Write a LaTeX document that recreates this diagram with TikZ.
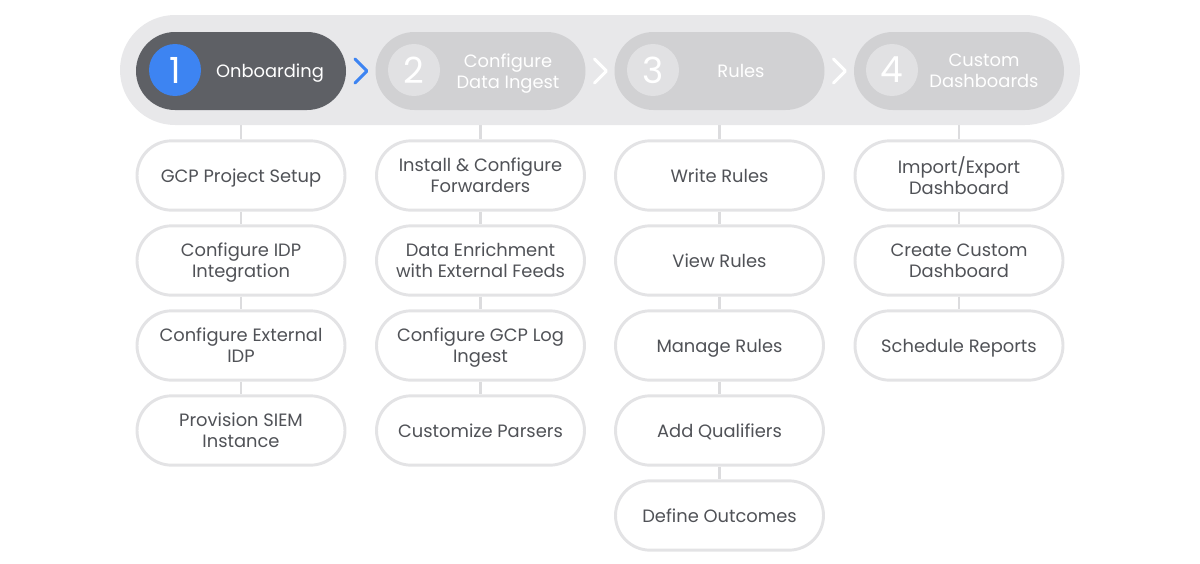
\documentclass[tikz,border=0pt]{standalone}
\usepackage{fontspec}
\setmainfont{Poppins}
\usetikzlibrary{backgrounds}
\definecolor{bgpill}{HTML}{E8E8EA}
\definecolor{darkstep}{HTML}{5E6065}
\definecolor{lightstep}{HTML}{D1D1D3}
\definecolor{lightcirc}{HTML}{E1E1E3}
\definecolor{blueone}{HTML}{3D84F2}
\definecolor{subborder}{HTML}{E3E3E5}
\definecolor{subtext}{HTML}{505257}
\definecolor{linecol}{HTML}{DCDCDE}
\pgfdeclarelayer{bottom}
\pgfsetlayers{bottom,background,main}
\begin{document}
\begin{tikzpicture}[x=0.75pt,y=-0.75pt,
  steppill/.style={minimum width=157.5pt, minimum height=58.5pt, rounded corners=29.25pt, inner sep=0pt},
  stepcirc/.style={circle, minimum size=39pt, inner sep=0pt, text=white, font=\fontsize{27}{30}\selectfont},
  steptext/.style={text=white, align=center, text depth=0pt, font=\fontsize{13.4}{15.8}\selectfont},
  subpill/.style={draw=subborder, line width=2.2pt, fill=white, minimum width=156pt, minimum height=52pt, rounded corners=26pt, inner sep=0pt, align=center, text depth=0pt, text=subtext, font=\fontsize{13.4}{15.8}\selectfont},
  link/.style={draw=linecol, line width=1.6pt},
  chev/.style={line width=2.2pt, line cap=round, line join=round}
]
\useasboundingbox (0,0) rectangle (1200,564);
\begin{pgfonlayer}{background}
\fill[bgpill, rounded corners=41.25pt] (120,15) rectangle (1080,125);
\end{pgfonlayer}
% steps
\node[steppill, fill=darkstep] (s1) at (241,71) {};
\node[steppill, fill=lightstep] (s2) at (480.5,71) {};
\node[steppill, fill=lightstep] (s3) at (719.5,71) {};
\node[steppill, fill=lightstep] (s4) at (959,71) {};
\node[stepcirc, fill=blueone] (c1) at (175,70) {1};
\node[stepcirc, fill=lightcirc] (c2) at (414,70) {2};
\node[stepcirc, fill=lightcirc] (c3) at (653,70) {3};
\node[stepcirc, fill=lightcirc] (c4) at (892,70) {4};
\node[steptext] (t1) at (270,71) {Onboarding};
\node[steptext] (t2) at (508,71) {Configure\\Data Ingest};
\node[steptext] (t3) at (741,71) {Rules};
\node[steptext] (t4) at (984,71) {Custom\\Dashboards};
% chevrons
\draw[chev, blueone] ([xshift=6.5pt,yshift=9pt]s1.east) -- ([xshift=15.5pt]s1.east) -- ([xshift=6.5pt,yshift=-9pt]s1.east);
\draw[chev, white] ([xshift=6.5pt,yshift=9pt]s2.east) -- ([xshift=15.5pt]s2.east) -- ([xshift=6.5pt,yshift=-9pt]s2.east);
\draw[chev, white] ([xshift=6.5pt,yshift=9pt]s3.east) -- ([xshift=15.5pt]s3.east) -- ([xshift=6.5pt,yshift=-9pt]s3.east);
% column 1
\node[subpill] (a1) at (241,175.5) {GCP Project Setup};
\node[subpill] (a2) at (241,260.5) {Configure IDP\\Integration};
\node[subpill] (a3) at (241,345.5) {Configure External\\IDP};
\node[subpill] (a4) at (241,430.5) {Provision SIEM\\Instance};
% column 2
\node[subpill] (b1) at (480.5,175.5) {Install \& Configure\\Forwarders};
\node[subpill] (b2) at (480.5,260.5) {Data Enrichment\\with External Feeds};
\node[subpill] (b3) at (480.5,345.5) {Configure GCP Log\\Ingest};
\node[subpill] (b4) at (480.5,430.5) {Customize Parsers};
% column 3
\node[subpill] (r1) at (719.5,175.5) {Write Rules};
\node[subpill] (r2) at (719.5,260.5) {View Rules};
\node[subpill] (r3) at (719.5,345.5) {Manage Rules};
\node[subpill] (r4) at (719.5,430.5) {Add Qualifiers};
\node[subpill] (r5) at (719.5,515.5) {Define Outcomes};
% column 4
\node[subpill] (d1) at (959,175.5) {Import/Export\\Dashboard};
\node[subpill] (d2) at (959,260.5) {Create Custom\\Dashboard};
\node[subpill] (d3) at (959,345.5) {Schedule Reports};
% links
\begin{pgfonlayer}{bottom}
\draw[link] (s1.south) -- (a1.north);
\draw[link] (a1) -- (a2);
\draw[link] (a2) -- (a3);
\draw[link] (a3) -- (a4);
\draw[link] (s2.south) -- (b1.north);
\draw[link] (b1) -- (b2);
\draw[link] (b2) -- (b3);
\draw[link] (b3) -- (b4);
\draw[link] (s3.south) -- (r1.north);
\draw[link] (r1) -- (r2);
\draw[link] (r2) -- (r3);
\draw[link] (r3) -- (r4);
\draw[link] (r4) -- (r5);
\draw[link] (s4.south) -- (d1.north);
\draw[link] (d1) -- (d2);
\draw[link] (d2) -- (d3);
\end{pgfonlayer}
\end{tikzpicture}
\end{document}
